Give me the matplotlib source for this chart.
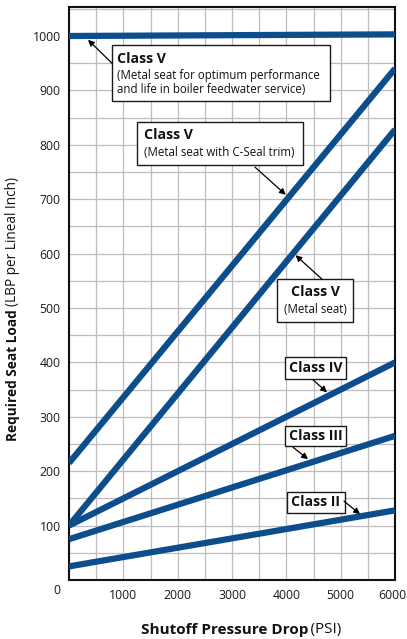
import matplotlib
matplotlib.use('Agg')
import matplotlib.pyplot as plt
from matplotlib.patches import Rectangle
from matplotlib.ticker import MultipleLocator, FixedLocator
from matplotlib.transforms import ScaledTranslation

plt.rcParams['font.family'] = ['Open Sans', 'DejaVu Sans']

# ---- data ----
pressure = [0, 6000]
boiler = [1000, 1003]
cseal = [215, 940]
metal = [100, 828]
class_iv = [100, 400]
class_iii = [75, 265]
class_ii = [25, 128]

x_ticks = [1000, 2000, 3000, 4000, 5000, 6000]
y_ticks = [100, 200, 300, 400, 500, 600, 700, 800, 900, 1000]

BLUE = '#0d4d8c'
W, H = 407, 639

fig = plt.figure(figsize=(W / 100, H / 100), dpi=100)
ax = fig.add_axes([69 / W, 59 / H, 326 / W, 573 / H])
ax.set_xlim(0, 6000)
ax.set_ylim(0, 1053.3)

ax.xaxis.set_major_locator(FixedLocator(x_ticks))
ax.yaxis.set_major_locator(FixedLocator(y_ticks))
ax.xaxis.set_minor_locator(MultipleLocator(500))
ax.yaxis.set_minor_locator(MultipleLocator(50))
ax.grid(which='both', color='#bdbdbd', lw=0.9, zorder=0)
ax.set_axisbelow(True)
ax.tick_params(which='both', length=0)
ax.tick_params(axis='y', pad=6.0, labelsize=8.8, labelcolor='#1a1a1a')
ax.tick_params(axis='x', pad=6.5, labelsize=8.8, labelcolor='#1a1a1a')
for s in ax.spines.values():
    s.set_linewidth(1.5)
    s.set_color('#111111')

for series in [boiler, cseal, metal, class_iv, class_iii, class_ii]:
    ax.plot(pressure, series, color=BLUE, lw=4.5, solid_capstyle='butt', zorder=3)

ax.annotate('0', xy=(0, 0), xycoords='data', xytext=(-8.6, -7.5),
            textcoords='offset points', ha='center', va='center',
            fontsize=8.8, color='#1a1a1a', annotation_clip=False)


def box(x0, y0, x1, y1):
    ax.add_patch(Rectangle((x0, y0), x1 - x0, y1 - y0, facecolor='white',
                           edgecolor='#1a1a1a', lw=1.0, zorder=5))


def arrow(tail, tip):
    ax.annotate('', xy=tip, xytext=tail,
                arrowprops=dict(arrowstyle='-|>', color='black', lw=0.9,
                                mutation_scale=9, shrinkA=0, shrinkB=0),
                zorder=6)


TF = 10.2
SF = 8.3
TC = '#111111'

# Box 1: boiler feedwater
box(786, 881, 4804, 983)
ax.text(883, 958, 'Class V', fontsize=TF, fontweight='bold', va='center', ha='left', zorder=6, color=TC)
ax.text(883, 928, '(Metal seat for optimum performance', fontsize=SF, va='center', ha='left', zorder=6, color=TC)
ax.text(883, 901, 'and life in boiler feedwater service)', fontsize=SF, va='center', ha='left', zorder=6, color=TC)
arrow((791, 950), (350, 993))

# Box 2: C-Seal
box(1257, 763, 4307, 841)
ax.text(1380, 818, 'Class V', fontsize=TF, fontweight='bold', va='center', ha='left', zorder=6, color=TC)
ax.text(1380, 785, '(Metal seat with C-Seal trim)', fontsize=SF, va='center', ha='left', zorder=6, color=TC)
arrow((3423, 759), (3990, 708))

# Box 3: Metal seat
box(3828, 474, 5227, 553)
ax.text(4528, 529, 'Class V', fontsize=TF, fontweight='bold', va='center', ha='center', zorder=6, color=TC)
ax.text(4528, 498, '(Metal seat)', fontsize=SF, va='center', ha='center', zorder=6, color=TC)
arrow((4657, 553), (4169, 597))

# Class IV
box(3975, 369.5, 5098, 410)
ax.text(4537, 390, 'Class IV', fontsize=TF, fontweight='bold', va='center', ha='center', zorder=6, color=TC)
arrow((4491, 368), (4749, 345))

# Class III
box(3975, 246, 5098, 283)
ax.text(4537, 265, 'Class III', fontsize=TF, fontweight='bold', va='center', ha='center', zorder=6, color=TC)
arrow((4123, 244), (4399, 222))

# Class II
box(4012, 123, 5080, 162)
ax.text(4546, 142.5, 'Class II', fontsize=TF, fontweight='bold', va='center', ha='center', zorder=6, color=TC)
arrow((5061, 145), (5356, 121))

# ---- axis titles with mixed weights ----
fig.canvas.draw()
r = fig.canvas.get_renderer()

# keep the last x tick label inside the canvas
last = ax.get_xticklabels()[-1]
last.set_transform(last.get_transform() + ScaledTranslation(-2.5 / 100, 0, fig.dpi_scale_trans))

XLF = 11
YLF = 9.8

xb = fig.text(0, 0, 'Shutoff Pressure Drop', fontsize=XLF, fontweight='bold', color=TC,
              va='center', ha='left')
xn = fig.text(0, 0, '\u2009(PSI)', fontsize=XLF, color=TC, va='center', ha='left')
wb = xb.get_window_extent(r).width
wn = xn.get_window_extent(r).width
left = 241 - (wb + wn) / 2
yc = H - 630
xb.set_position((left / W, yc / H))
xn.set_position(((left + wb) / W, yc / H))

yb = fig.text(0, 0, 'Required Seat Load', fontsize=YLF, fontweight='bold', color=TC,
              va='center', ha='center', rotation=90, rotation_mode='anchor')
yn = fig.text(0, 0, '(LBP per Lineal Inch)', fontsize=YLF, color=TC,
              va='center', ha='center', rotation=90, rotation_mode='anchor')
hb = yb.get_window_extent(r).height
hn = yn.get_window_extent(r).height
gap = 3
total = hb + hn + gap
bottom = (H - 309) - total / 2
xc = 13
yb.set_position((xc / W, (bottom + hb / 2) / H))
yn.set_position((xc / W, (bottom + hb + gap + hn / 2) / H))

fig.savefig('out.png', dpi=100)
